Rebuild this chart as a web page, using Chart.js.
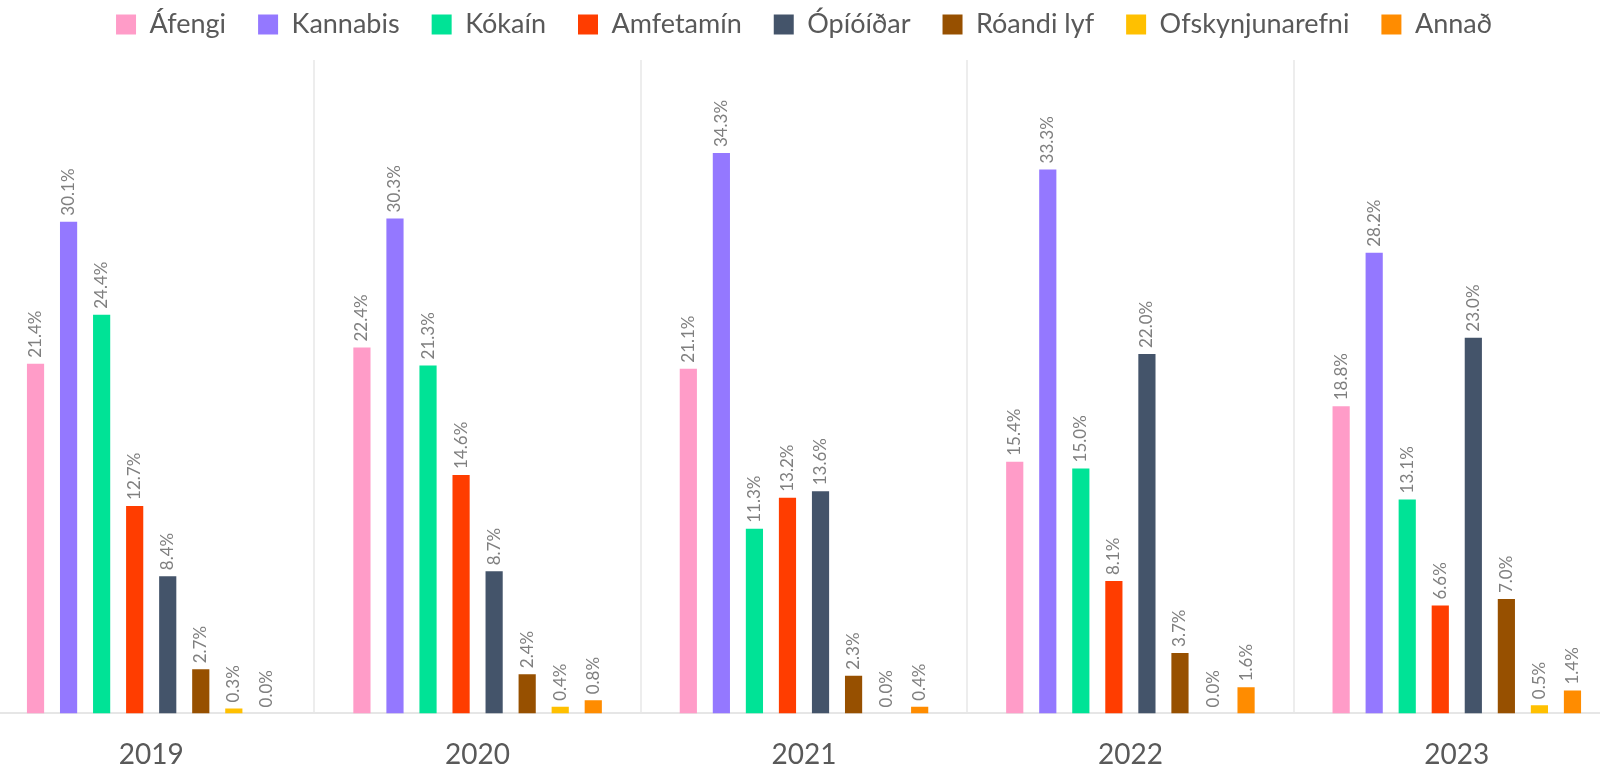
<!DOCTYPE html>
<html>
<head>
<meta charset="utf-8">
<script src="https://cdn.jsdelivr.net/npm/chart.js@4"></script>
<style>
html,body{margin:0;padding:0;background:#fff;overflow:hidden;width:1600px;height:768px;}
#wrap{position:absolute;left:-12px;top:0;width:1632px;height:797px;}
</style>
</head>
<body>
<div id="wrap"><canvas id="c" width="1632" height="797"></canvas></div>
<script>
const years = ['2019', '2020', '2021', '2022', '2023'];
const seriesNames = ['Áfengi', 'Kannabis', 'Kókaín', 'Amfetamín', 'Ópíóíðar', 'Róandi lyf', 'Ofskynjunarefni', 'Annað'];
const afengi = [21.4, 22.4, 21.1, 15.4, 18.8];
const kannabis = [30.1, 30.3, 34.3, 33.3, 28.2];
const kokain = [24.4, 21.3, 11.3, 15.0, 13.1];
const amfetamin = [12.7, 14.6, 13.2, 8.1, 6.6];
const opioidar = [8.4, 8.7, 13.6, 22.0, 23.0];
const roandi = [2.7, 2.4, 2.3, 3.7, 7.0];
const ofskynjun = [0.3, 0.4, 0.0, 0.0, 0.5];
const annad = [0.0, 0.8, 0.4, 1.6, 1.4];
const seriesValues = [afengi, kannabis, kokain, amfetamin, opioidar, roandi, ofskynjun, annad];
const colors = ['#FF9CC8', '#9478FF', '#00E396', '#FF3D00', '#44546A', '#975000', '#FFC000', '#FF8C00'];

const labelPlugin = {
  id: 'barLabels',
  afterDatasetsDraw(chart) {
    const ctx = chart.ctx;
    ctx.save();
    ctx.font = '17px Lato';
    ctx.fillStyle = '#7F7F7F';
    ctx.textAlign = 'left';
    ctx.textBaseline = 'middle';
    chart.data.datasets.forEach((ds, di) => {
      const meta = chart.getDatasetMeta(di);
      meta.data.forEach((bar, i) => {
        const v = ds.data[i];
        ctx.save();
        ctx.translate(bar.x, bar.y - 6);
        ctx.rotate(-Math.PI / 2);
        ctx.fillText(v.toFixed(1) + '%', 0, 0);
        ctx.restore();
      });
    });
    ctx.restore();
  }
};

const legendTweak = {
  id: 'legendTweak',
  beforeInit(chart) {
    const lg = chart.legend;
    const origFit = lg.fit;
    lg.fit = function () {
      origFit.apply(this, arguments);
      this.height -= 9;
    };
    const origDraw = lg.draw;
    lg.draw = function () {
      const ctx = this.ctx;
      ctx.save();
      ctx.translate(0, -21);
      origDraw.apply(this, arguments);
      ctx.restore();
    };
  }
};

new Chart(document.getElementById('c'), {
  type: 'bar',
  data: {
    labels: years,
    datasets: seriesNames.map((n, i) => ({
      label: n,
      data: seriesValues[i],
      backgroundColor: colors[i],
      borderWidth: 0,
      categoryPercentage: 0.81,
      barPercentage: 0.52
    }))
  },
  options: {
    responsive: false,
    devicePixelRatio: 1,
    animation: false,
    layout: { padding: { top: 0, bottom: 0, left: 0, right: 0 } },
    plugins: {
      legend: {
        position: 'top',
        labels: {
          boxWidth: 20,
          boxHeight: 20,
          padding: 32,
          color: '#595959',
          font: { family: 'Lato', size: 27 }
        }
      },
      tooltip: { enabled: false }
    },
    scales: {
      x: {
        grid: { display: true, offset: true, color: '#EDEDED', lineWidth: 2, drawTicks: false },
        border: { display: true, color: '#E6E6E6', width: 2 },
        ticks: { color: '#595959', font: { family: 'Lato', size: 28 }, padding: 25 }
      },
      y: {
        display: false,
        min: 0,
        max: 40
      }
    }
  },
  plugins: [labelPlugin, legendTweak]
});
</script>
</body>
</html>
